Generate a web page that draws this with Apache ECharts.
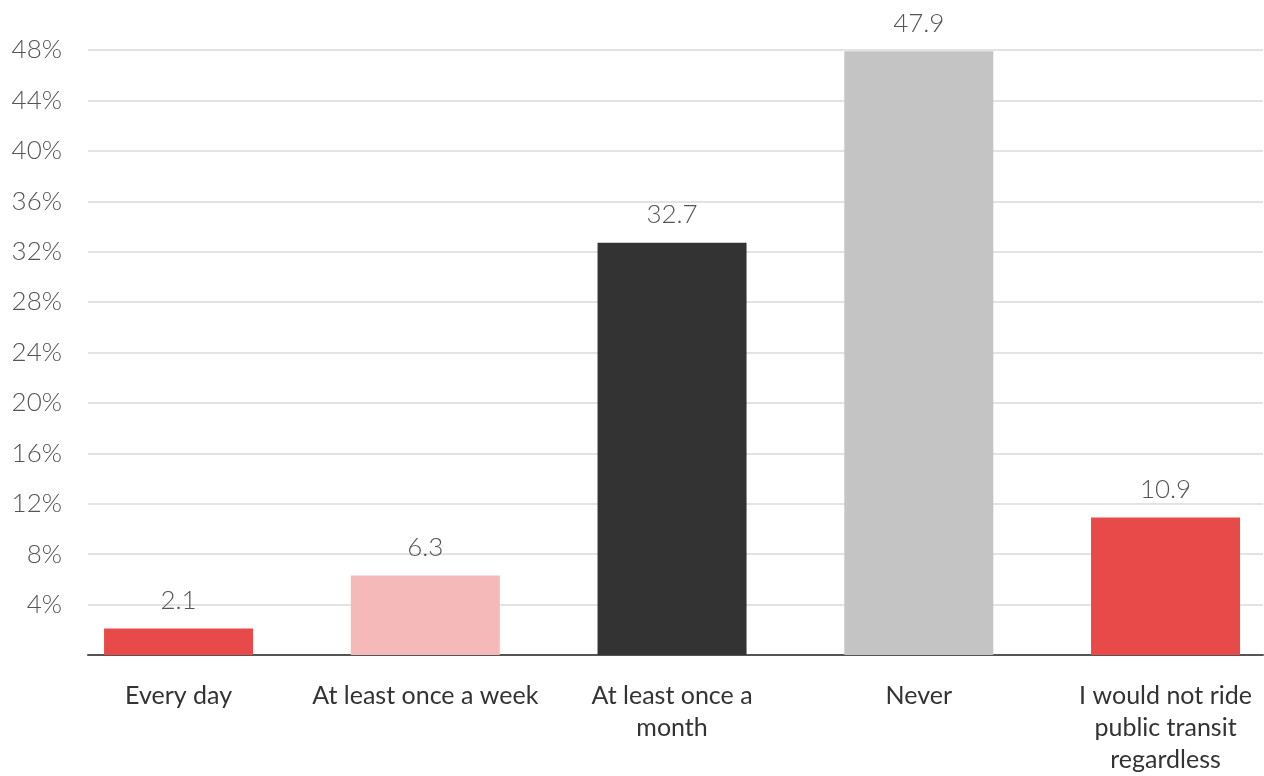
<!DOCTYPE html>
<html>
<head>
<meta charset="utf-8">
<title>Public transit riding frequency</title>
<script src="https://cdn.jsdelivr.net/npm/echarts@6/dist/echarts.min.js"></script>
<style>
  html, body { margin: 0; padding: 0; background: #ffffff; }
  #chart { width: 1264px; height: 776px; }
</style>
</head>
<body>
<div id="chart"></div>
<script>
// Answer categories along the horizontal axis
const categories = [
  'Every day',
  'At least once a week',
  'At least once a\nmonth',
  'Never',
  'I would not ride\npublic transit\nregardless'
];
// Share of respondents, percent
const shares = [2.1, 6.3, 32.7, 47.9, 10.9];
// Vertical tick values
const yTicks = [0, 4, 8, 12, 16, 20, 24, 28, 32, 36, 40, 44, 48];
// Bar fill per category
const barColors = ['#e84a4a', '#f5b9b9', '#333333', '#c4c4c4', '#e84a4a'];

const chart = echarts.init(document.getElementById('chart'), null, { renderer: 'canvas' });

chart.setOption({
  backgroundColor: '#ffffff',
  animation: false,
  grid: { left: 88, right: 1, top: 50, bottom: 118, containLabel: false },
  xAxis: {
    type: 'value',
    min: -0.367,
    max: 4.395,
    splitLine: { show: false },
    axisTick: { show: false },
    axisLine: { show: true, onZero: true, lineStyle: { color: '#555555', width: 2 } },
    axisLabel: {
      customValues: categories.map((c, i) => i),
      formatter: v => categories[Math.round(v)] || '',
      margin: 25,
      color: '#333333',
      fontFamily: 'Lato',
      fontSize: 25,
      lineHeight: 32,
      align: 'center',
      verticalAlign: 'top'
    }
  },
  yAxis: {
    type: 'value',
    min: yTicks[0],
    max: yTicks[yTicks.length - 1],
    interval: yTicks[1] - yTicks[0],
    axisLine: { show: false },
    axisTick: { show: false },
    splitLine: { show: true, lineStyle: { color: '#e3e3e3', width: 2 } },
    axisLabel: {
      formatter: v => (v === 0 ? '' : v + '%'),
      margin: 26,
      color: '#555555',
      fontFamily: 'Lato',
      fontWeight: 300,
      fontSize: 26
    }
  },
  series: [{
    type: 'bar',
    barWidth: 149,
    data: shares.map((v, i) => ({
      value: [i, v],
      itemStyle: { color: barColors[i] }
    })),
    label: {
      show: true,
      position: 'top',
      distance: 15,
      formatter: p => p.value[1].toFixed(1),
      color: '#555555',
      fontFamily: 'Lato',
      fontWeight: 300,
      fontSize: 26
    }
  }]
});
</script>
</body>
</html>
